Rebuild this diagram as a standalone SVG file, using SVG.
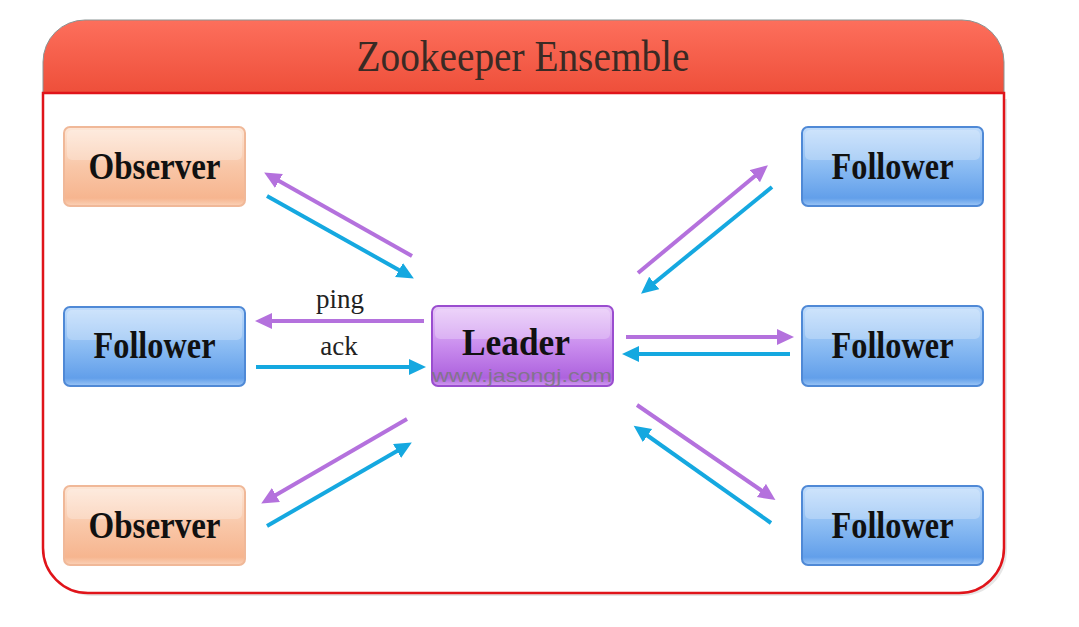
<svg xmlns="http://www.w3.org/2000/svg" width="1079" height="627" viewBox="0 0 1079 627">
<defs>
  <linearGradient id="hdr" x1="0" y1="0" x2="0" y2="1">
    <stop offset="0" stop-color="#fd6f5c"/>
    <stop offset="1" stop-color="#ee4f3a"/>
  </linearGradient>
  <linearGradient id="gObs" x1="0" y1="0" x2="0" y2="1">
    <stop offset="0" stop-color="#fde6d6"/>
    <stop offset="0.5" stop-color="#f9c7a8"/>
    <stop offset="0.9" stop-color="#f6b58f"/>
    <stop offset="1" stop-color="#fbd2b8"/>
  </linearGradient>
  <linearGradient id="gFol" x1="0" y1="0" x2="0" y2="1">
    <stop offset="0" stop-color="#c0dcfb"/>
    <stop offset="0.5" stop-color="#8bbcf3"/>
    <stop offset="0.9" stop-color="#629fea"/>
    <stop offset="1" stop-color="#9cc6f6"/>
  </linearGradient>
  <linearGradient id="gLead" x1="0" y1="0" x2="0" y2="1">
    <stop offset="0" stop-color="#e8c8f8"/>
    <stop offset="0.5" stop-color="#c98cee"/>
    <stop offset="0.9" stop-color="#ad62de"/>
    <stop offset="1" stop-color="#d29ef0"/>
  </linearGradient>
  <marker id="ahP" markerUnits="userSpaceOnUse" markerWidth="20" markerHeight="18" refX="8" refY="8" orient="auto">
    <path d="M0,0 L17,8 L0,16 z" fill="#b471dd"/>
  </marker>
  <marker id="ahB" markerUnits="userSpaceOnUse" markerWidth="20" markerHeight="18" refX="8" refY="8" orient="auto">
    <path d="M0,0 L17,8 L0,16 z" fill="#15a8e0"/>
  </marker>
</defs>
<style>
  .nodeText { font-family: "Liberation Serif", "Times New Roman", serif; font-weight: bold; font-size: 37px; fill: #111; text-anchor: middle; }
  .lbl { font-family: "Liberation Serif", "Times New Roman", serif; font-size: 27px; fill: #222; text-anchor: middle; }
  .obs { fill: url(#gObs); stroke: #f0b898; stroke-width: 2; }
  .fol { fill: url(#gFol); stroke: #4f89d6; stroke-width: 2; }
  .lead { fill: url(#gLead); stroke: #9a4dcf; stroke-width: 2; }
  .gloss { fill: #ffffff; opacity: 0.25; }
  .p { stroke: #b471dd; stroke-width: 4; fill: none; marker-end: url(#ahP); }
  .b { stroke: #15a8e0; stroke-width: 4; fill: none; marker-end: url(#ahB); }
</style>
<rect width="1079" height="627" fill="#ffffff"/>
<g id="container">
  <path d="M45,96 L45,548 A45,45 0 0 0 90,593 L960,593 A45,45 0 0 0 1005,548 L1005,96" fill="#9a9a9a" opacity="0.25" transform="translate(2,3)"/>
  <path d="M43,93 L43,62 A42,42 0 0 1 85,20 L962,20 A42,42 0 0 1 1004,62 L1004,93 Z" fill="url(#hdr)" stroke="#8a9494" stroke-width="1"/>
  <path d="M43,93 L43,548 A45,45 0 0 0 88,593 L959,593 A45,45 0 0 0 1004,548 L1004,93 Z" fill="#ffffff" stroke="#e0141a" stroke-width="2.5"/>
  <text x="523" y="71" font-family="'Liberation Serif', 'Times New Roman', serif" font-size="45" fill="#3a2a24" text-anchor="middle" textLength="333" lengthAdjust="spacingAndGlyphs">Zookeeper Ensemble</text>
</g>
<g id="connectors">
  <line class="p" x1="412" y1="256" x2="272" y2="177"/>
  <line class="b" x1="267" y1="196" x2="406" y2="274"/>
  <line class="p" x1="424" y1="321" x2="264" y2="321"/>
  <line class="b" x1="256" y1="367" x2="417" y2="367"/>
  <line class="p" x1="407" y1="419" x2="269" y2="499"/>
  <line class="b" x1="267" y1="526" x2="404" y2="447"/>
  <line class="p" x1="638" y1="273" x2="761" y2="171"/>
  <line class="b" x1="772" y1="187" x2="648" y2="288"/>
  <line class="p" x1="626" y1="337" x2="785" y2="337"/>
  <line class="b" x1="790" y1="354" x2="631" y2="354"/>
  <line class="p" x1="637" y1="405" x2="768" y2="495"/>
  <line class="b" x1="771" y1="523" x2="641" y2="431"/>
  <text class="lbl" x="340" y="308">ping</text>
  <text class="lbl" x="339" y="355">ack</text>
</g>
<g id="observer-top">
  <rect class="obs" x="64" y="127" width="181" height="79" rx="6"/>
  <rect class="gloss" x="67" y="130" width="175" height="30" rx="5"/>
  <text class="nodeText" x="154.5" y="179" textLength="132" lengthAdjust="spacingAndGlyphs">Observer</text>
</g>
<g id="follower-left">
  <rect class="fol" x="64" y="307" width="181" height="79" rx="6"/>
  <rect class="gloss" x="67" y="310" width="175" height="30" rx="5"/>
  <text class="nodeText" x="154.5" y="358" textLength="122" lengthAdjust="spacingAndGlyphs">Follower</text>
</g>
<g id="observer-bottom">
  <rect class="obs" x="64" y="486" width="181" height="79" rx="6"/>
  <rect class="gloss" x="67" y="489" width="175" height="30" rx="5"/>
  <text class="nodeText" x="154.5" y="538" textLength="132" lengthAdjust="spacingAndGlyphs">Observer</text>
</g>
<g id="leader">
  <rect class="lead" x="432" y="306" width="181" height="80" rx="6"/>
  <rect class="gloss" x="435" y="309" width="175" height="30" rx="5"/>
  <text class="nodeText" x="516" y="355" textLength="108" lengthAdjust="spacingAndGlyphs">Leader</text>
  <text x="522" y="382" font-family="'Liberation Sans', Arial, sans-serif" font-size="19" fill="#777777" fill-opacity="0.8" text-anchor="middle" textLength="180" lengthAdjust="spacingAndGlyphs">www.jasongj.com</text>
</g>
<g id="follower-right-top">
  <rect class="fol" x="802" y="127" width="181" height="79" rx="6"/>
  <rect class="gloss" x="805" y="130" width="175" height="30" rx="5"/>
  <text class="nodeText" x="892.5" y="179" textLength="122" lengthAdjust="spacingAndGlyphs">Follower</text>
</g>
<g id="follower-right-mid">
  <rect class="fol" x="802" y="306" width="181" height="80" rx="6"/>
  <rect class="gloss" x="805" y="309" width="175" height="30" rx="5"/>
  <text class="nodeText" x="892.5" y="358" textLength="122" lengthAdjust="spacingAndGlyphs">Follower</text>
</g>
<g id="follower-right-bottom">
  <rect class="fol" x="802" y="486" width="181" height="79" rx="6"/>
  <rect class="gloss" x="805" y="489" width="175" height="30" rx="5"/>
  <text class="nodeText" x="892.5" y="538" textLength="122" lengthAdjust="spacingAndGlyphs">Follower</text>
</g>
</svg>
